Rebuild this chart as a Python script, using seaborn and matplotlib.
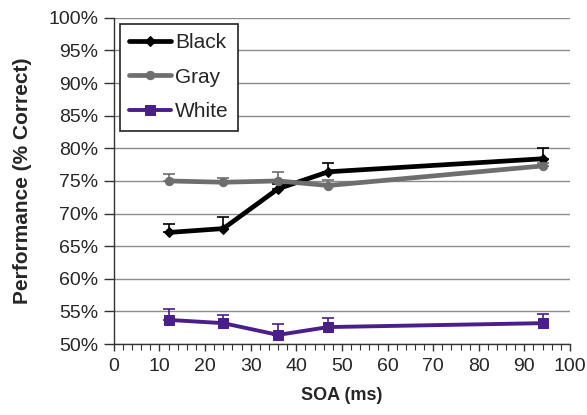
import matplotlib
matplotlib.use("Agg")
import matplotlib.pyplot as plt
import seaborn as sns
import numpy as np
import pandas as pd
from matplotlib.ticker import MultipleLocator, FuncFormatter

soa = [12, 24, 36, 47, 94]
black = [67.1, 67.7, 73.8, 76.4, 78.4]
black_err = [1.3, 1.7, 0.8, 1.4, 1.7]
gray = [75.0, 74.8, 75.0, 74.3, 77.3]
gray_err = [1.0, 0.7, 1.4, 0.9, 0.5]
white = [53.7, 53.2, 51.4, 52.6, 53.2]
white_err = [1.6, 1.2, 1.6, 1.4, 1.4]

series = ["Black", "Gray", "White"]
colors = {"Black": "#000000", "Gray": "#6e6e6e", "White": "#4a1f8a"}
markers = {"Black": "D", "Gray": "o", "White": "s"}
msizes = {"Black": 5, "Gray": 6, "White": 7}

df = pd.DataFrame({
    "SOA": soa * 3,
    "Perf": black + gray + white,
    "Err": black_err + gray_err + white_err,
    "Series": sum([[s] * len(soa) for s in series], []),
})

sns.set_theme(style="white")
plt.rcParams['font.family'] = ['Liberation Sans', 'DejaVu Sans']

fig = plt.figure(figsize=(5.87, 4.15), dpi=100)
ax = fig.add_axes([0.194, 0.171, 0.777, 0.786])

for s in series:
    d = df[df["Series"] == s]
    ax.errorbar(d["SOA"], d["Perf"], yerr=[np.zeros(len(d)), d["Err"]],
                fmt="none", ecolor=colors[s], elinewidth=1.2, capsize=4,
                capthick=1.2, zorder=2)

for s in series:
    d = df[df["Series"] == s]
    lw = 3.4 if s != "White" else 2.8
    sns.lineplot(data=d, x="SOA", y="Perf", ax=ax, color=colors[s],
                 marker=markers[s], markersize=msizes[s], linewidth=lw,
                 markeredgecolor=colors[s], label=s, zorder=3)

ax.set_xlim(0, 100)
ax.set_ylim(50, 100)
ax.xaxis.set_major_locator(MultipleLocator(10))
ax.xaxis.set_minor_locator(MultipleLocator(2))
ax.yaxis.set_major_locator(MultipleLocator(5))
ax.yaxis.set_major_formatter(FuncFormatter(lambda v, p: f"{int(round(v))}%"))
ax.grid(axis="y", color="#8c8c8c", linewidth=1.0)
ax.grid(axis="x", visible=False)
ax.set_axisbelow(True)

for sp in ["top", "right"]:
    ax.spines[sp].set_visible(False)
for sp in ["left", "bottom"]:
    ax.spines[sp].set_color("#333333")
    ax.spines[sp].set_linewidth(1.0)

ax.tick_params(axis="x", which="major", direction="out", length=5, width=1,
               color="#333333", labelsize=14, pad=5, bottom=True)
ax.tick_params(axis="x", which="minor", direction="out", length=4, width=0.8,
               color="#333333", bottom=True)
ax.tick_params(axis="y", which="major", direction="out", length=7, width=1,
               color="#333333", labelsize=14, pad=4, left=True)

ax.set_xlabel("SOA (ms)", fontsize=13, fontweight="bold", labelpad=9)
ax.set_ylabel("Performance (% Correct)", fontsize=15, fontweight="bold", labelpad=12)

leg = ax.legend(loc="upper left", bbox_to_anchor=(0.013, 0.982), fontsize=15,
                frameon=True, fancybox=False, edgecolor="#222222",
                handlelength=2.0, handletextpad=0.2, labelspacing=0.75,
                borderpad=0.45, borderaxespad=0)
leg.get_frame().set_linewidth(1.2)
leg.get_frame().set_facecolor("white")
leg.get_frame().set_alpha(1)

fig.savefig("out.png", dpi=100, facecolor="white")
